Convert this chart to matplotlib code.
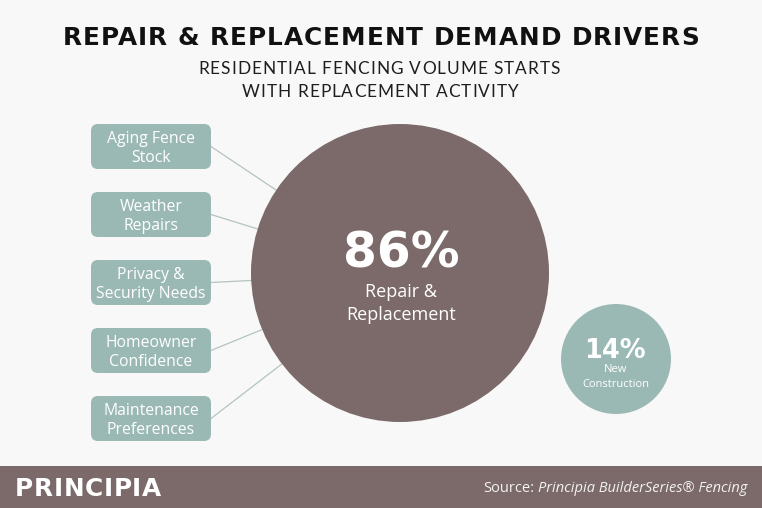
import matplotlib
matplotlib.use("Agg")
import matplotlib.pyplot as plt
from matplotlib.patches import Circle, FancyBboxPatch, Rectangle
import numpy as np

# ---- data ----
title = "REPAIR & REPLACEMENT DEMAND DRIVERS"
subtitle = ["RESIDENTIAL FENCING VOLUME STARTS", "WITH REPLACEMENT ACTIVITY"]
segments = [["Repair &", "Replacement"], ["New", "Construction"]]
shares = [86, 14]
drivers = [["Aging Fence", "Stock"], ["Weather", "Repairs"], ["Privacy &", "Security Needs"],
           ["Homeowner", "Confidence"], ["Maintenance", "Preferences"]]
brand = "PRINCIPIA"
source_prefix = "Source: "
source_name = "Principia BuilderSeries® Fencing"

# ---- style ----
BG = "#f8f8f8"
MAUVE = "#7c6a6a"
SAGE = "#9bb9b4"
LINE = "#b3c4c1"
W, H = 762, 508

fig = plt.figure(figsize=(W / 100, H / 100), dpi=100, facecolor=BG)
ax = fig.add_axes([0, 0, 1, 1])
ax.set_xlim(0, W)
ax.set_ylim(H, 0)
ax.set_aspect("equal")
ax.axis("off")
ax.set_facecolor(BG)
renderer = fig.canvas.get_renderer()


def text_w(s, **kw):
    t = ax.text(0, 0, s, **kw)
    w = t.get_window_extent(renderer).width
    t.remove()
    return w


def spaced(x, y, s, target_w, ha="center", **kw):
    natural = text_w(s, **kw)
    n = len(s)
    sp = (target_w - natural) / (n - 1) if n > 1 else 0
    total = natural + sp * (n - 1)
    x0 = {"center": x - total / 2, "left": x, "right": x - total}[ha]
    for k, ch in enumerate(s):
        if ch == " ":
            continue
        xe = x0 + text_w(s[:k + 1], **kw) + sp * k
        ax.text(xe, y, ch, ha="right", va="baseline", **kw)


# title
spaced(381, 45, title, 636, fontsize=17.8, fontweight="bold",
       family="DejaVu Sans", color="#111111")
spaced(379, 74, subtitle[0], 362, fontsize=12.4, family="Lato", color="#1e1e1e")
spaced(380, 97, subtitle[1], 276, fontsize=12.4, family="Lato", color="#1e1e1e")

# circles
big_c, big_r = (400, 273), 149
small_c, small_r = (616, 359), 55
ax.add_patch(Circle(big_c, big_r, color=MAUVE, lw=0, zorder=2))
ax.add_patch(Circle(small_c, small_r, color=SAGE, lw=0, zorder=2))

ax.text(401, 267, f"{shares[0]}%", ha="center", va="baseline", fontsize=35,
        fontweight="bold", family="DejaVu Sans", color="white", zorder=3)
for ln, by in zip(segments[0], [297, 320]):
    ax.text(401, by, ln, ha="center", va="baseline", fontsize=13,
            family="Open Sans", color="white", zorder=3)
ax.text(615, 358, f"{shares[1]}%", ha="center", va="baseline", fontsize=18.5,
        fontweight="bold", family="DejaVu Sans", color="white", zorder=3)
for ln, by in zip(segments[1], [372, 387]):
    ax.text(616, by, ln, ha="center", va="baseline", fontsize=8,
            family="Open Sans", color="white", zorder=3)

# driver boxes
bx, bw, bh = 91, 120, 45
for i, d in enumerate(drivers):
    y0 = 124 + 68 * i
    yc = y0 + bh / 2
    ax.add_patch(FancyBboxPatch((bx, y0), bw, bh, boxstyle="round,pad=0,rounding_size=7",
                                fc=SAGE, ec="none", zorder=2))
    for ln, off in zip(d, [-3.5, 15.5]):
        ax.text(bx + bw / 2, yc + off, ln, ha="center", va="baseline", fontsize=11.3,
                family="Open Sans", color="white", zorder=3)
    # connector toward circle centre
    x1, y1 = bx + bw, yc
    dx, dy = big_c[0] - x1, big_c[1] - y1
    dist = np.hypot(dx, dy)
    ex, ey = big_c[0] - dx / dist * big_r, big_c[1] - dy / dist * big_r
    ax.plot([x1, ex], [y1, ey], color=LINE, lw=0.9, zorder=1)

# footer
ax.add_patch(Rectangle((0, 466), W, H - 466, color=MAUVE, lw=0, zorder=2))
spaced(15, 496, brand, 146, ha="left", fontsize=17.8, fontweight="bold",
       family="DejaVu Sans", color="white", zorder=3)
src_kw = dict(fontsize=10.5, family="Open Sans", color="#f2f2f2", zorder=3)
w_name = text_w(source_name, style="italic", **src_kw)
ax.text(747, 492, source_name, ha="right", va="baseline", style="italic", **src_kw)
ax.text(747 - w_name - 3, 492, source_prefix.strip(), ha="right", va="baseline", **src_kw)

fig.savefig("out.png", dpi=100, facecolor=BG)
